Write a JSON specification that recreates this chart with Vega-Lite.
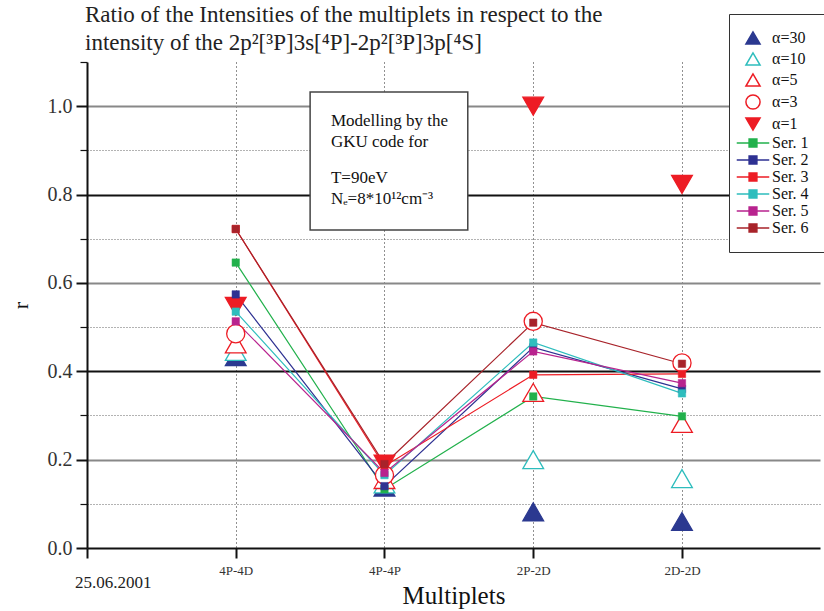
{
  "$schema": "https://vega.github.io/schema/vega-lite/v6.json",
  "width": 733,
  "height": 486,
  "autosize": "none",
  "padding": {"left": 87, "top": 62, "right": 4, "bottom": 63},
  "background": "white",
  "title": {
    "text": ["Ratio of the Intensities of the multiplets in respect to the", "intensity of the 2p²[³P]3s[⁴P]-2p²[³P]3p[⁴S]"],
    "anchor": "start",
    "frame": "group",
    "font": "Liberation Serif",
    "fontSize": 23,
    "fontWeight": "normal",
    "color": "#222",
    "lineHeight": 28,
    "offset": 10,
    "dx": -2,
    "dy": 51
  },
  "config": {
    "view": {"stroke": null},
    "legend": {
      "orient": "none",
      "legendX": 642,
      "legendY": -48,
      "padding": 16,
      "fillColor": "white",
      "strokeColor": "#333",
      "labelFont": "Liberation Serif",
      "labelFontSize": 16,
      "labelColor": "#111",
      "labelOffset": 11,
      "symbolSize": 200,
      "symbolStrokeWidth": 1.5,
      "rowPadding": 1,
      "labelLimit": 200
    }
  },
  "datasets": {
    "series": [
      {"pos": 1, "multiplet": "4P-4D", "key": "Ser. 1", "r": 0.646},
      {"pos": 2, "multiplet": "4P-4P", "key": "Ser. 1", "r": 0.133},
      {"pos": 3, "multiplet": "2P-2D", "key": "Ser. 1", "r": 0.343},
      {"pos": 4, "multiplet": "2D-2D", "key": "Ser. 1", "r": 0.298},
      {"pos": 1, "multiplet": "4P-4D", "key": "Ser. 2", "r": 0.574},
      {"pos": 2, "multiplet": "4P-4P", "key": "Ser. 2", "r": 0.14},
      {"pos": 3, "multiplet": "2P-2D", "key": "Ser. 2", "r": 0.454},
      {"pos": 4, "multiplet": "2D-2D", "key": "Ser. 2", "r": 0.36},
      {"pos": 1, "multiplet": "4P-4D", "key": "Ser. 3", "r": 0.722},
      {"pos": 2, "multiplet": "4P-4P", "key": "Ser. 3", "r": 0.185},
      {"pos": 3, "multiplet": "2P-2D", "key": "Ser. 3", "r": 0.392},
      {"pos": 4, "multiplet": "2D-2D", "key": "Ser. 3", "r": 0.394},
      {"pos": 1, "multiplet": "4P-4D", "key": "Ser. 4", "r": 0.535},
      {"pos": 2, "multiplet": "4P-4P", "key": "Ser. 4", "r": 0.165},
      {"pos": 3, "multiplet": "2P-2D", "key": "Ser. 4", "r": 0.465},
      {"pos": 4, "multiplet": "2D-2D", "key": "Ser. 4", "r": 0.35},
      {"pos": 1, "multiplet": "4P-4D", "key": "Ser. 5", "r": 0.513},
      {"pos": 2, "multiplet": "4P-4P", "key": "Ser. 5", "r": 0.17},
      {"pos": 3, "multiplet": "2P-2D", "key": "Ser. 5", "r": 0.445},
      {"pos": 4, "multiplet": "2D-2D", "key": "Ser. 5", "r": 0.373},
      {"pos": 1, "multiplet": "4P-4D", "key": "Ser. 6", "r": 0.722},
      {"pos": 2, "multiplet": "4P-4P", "key": "Ser. 6", "r": 0.19},
      {"pos": 3, "multiplet": "2P-2D", "key": "Ser. 6", "r": 0.51},
      {"pos": 4, "multiplet": "2D-2D", "key": "Ser. 6", "r": 0.417}
    ],
    "alpha": [
      {"pos": 1, "multiplet": "4P-4D", "key": "α=30", "r": 0.433},
      {"pos": 2, "multiplet": "4P-4P", "key": "α=30", "r": 0.138},
      {"pos": 3, "multiplet": "2P-2D", "key": "α=30", "r": 0.082},
      {"pos": 4, "multiplet": "2D-2D", "key": "α=30", "r": 0.06},
      {"pos": 1, "multiplet": "4P-4D", "key": "α=10", "r": 0.445},
      {"pos": 2, "multiplet": "4P-4P", "key": "α=10", "r": 0.145},
      {"pos": 3, "multiplet": "2P-2D", "key": "α=10", "r": 0.2},
      {"pos": 4, "multiplet": "2D-2D", "key": "α=10", "r": 0.157},
      {"pos": 1, "multiplet": "4P-4D", "key": "α=5", "r": 0.462},
      {"pos": 2, "multiplet": "4P-4P", "key": "α=5", "r": 0.155},
      {"pos": 3, "multiplet": "2P-2D", "key": "α=5", "r": 0.352},
      {"pos": 4, "multiplet": "2D-2D", "key": "α=5", "r": 0.282},
      {"pos": 1, "multiplet": "4P-4D", "key": "α=3", "r": 0.485},
      {"pos": 2, "multiplet": "4P-4P", "key": "α=3", "r": 0.165},
      {"pos": 3, "multiplet": "2P-2D", "key": "α=3", "r": 0.513},
      {"pos": 4, "multiplet": "2D-2D", "key": "α=3", "r": 0.419},
      {"pos": 1, "multiplet": "4P-4D", "key": "α=1", "r": 0.547},
      {"pos": 2, "multiplet": "4P-4P", "key": "α=1", "r": 0.19},
      {"pos": 3, "multiplet": "2P-2D", "key": "α=1", "r": 1.0},
      {"pos": 4, "multiplet": "2D-2D", "key": "α=1", "r": 0.823}
    ],
    "note": [
      {"x": 1.5, "x2": 2.56, "y": 1.032, "y2": 0.72}
    ],
    "noteText": [
      {"tx": 1.64, "ty": 0.985, "label": ["Modelling by the", "GKU code for"]},
      {"tx": 1.64, "ty": 0.855, "label": ["T=90eV", "Nₑ=8*10¹²cm⁻³"]}
    ],
    "stamp": [
      {"x": 0, "y": 0, "label": "25.06.2001"}
    ]
  },
  "layer": [
    {
      "data": {"name": "series"},
      "mark": {"type": "line", "strokeWidth": 1.2},
      "encoding": {
        "x": {
          "field": "pos", "type": "quantitative",
          "scale": {"domain": [0, 4.928], "nice": false, "zero": false},
          "axis": {
            "values": [0, 1, 2, 3, 4],
            "labelExpr": "['', '4P-4D', '4P-4P', '2P-2D', '2D-2D'][datum.value]",
            "labelFont": "Liberation Serif", "labelFontSize": 13, "labelColor": "#333", "labelPadding": 6,
            "domainColor": "#111", "domainWidth": 2,
            "tickColor": "#111", "tickWidth": 2, "tickSize": 10,
            "grid": true, "gridColor": "#222", "gridDash": [1, 3], "gridWidth": 1,
            "gridOpacity": {"condition": {"test": "datum.value < 0.5", "value": 0}, "value": 1},
            "title": "Multiplets", "titleFont": "Liberation Serif", "titleFontSize": 25,
            "titleFontWeight": "normal", "titleColor": "#111", "titlePadding": 6
          }
        },
        "y": {
          "field": "r", "type": "quantitative",
          "scale": {"domain": [0, 1.1], "nice": false},
          "axis": {
            "values": [0, 0.1, 0.2, 0.3, 0.4, 0.5, 0.6, 0.7, 0.8, 0.9, 1.0, 1.1],
            "labelExpr": "(round(datum.value*10) % 2 == 0 && datum.value < 1.05) ? format(datum.value, '.1f') : ''",
            "labelFont": "Liberation Serif", "labelFontSize": 20, "labelColor": "#333", "labelPadding": 4,
            "domainColor": "#111", "domainWidth": 2,
            "tickColor": "#111",
            "tickWidth": {"condition": {"test": "round(datum.value*10) % 2 == 1", "value": 1.2}, "value": 2},
            "tickSize": {"condition": {"test": "round(datum.value*10) % 2 == 1", "value": 7}, "value": 11},
            "grid": true,
            "gridDash": {"condition": {"test": "round(datum.value*10) % 2 == 1", "value": [1, 2]}, "value": []},
            "gridColor": {"condition": [{"test": "round(datum.value*10) % 2 == 1", "value": "#666"}, {"test": "round(datum.value*10) == 4 || round(datum.value*10) == 8", "value": "#111"}], "value": "#888"},
            "gridWidth": {"condition": {"test": "round(datum.value*10) % 2 == 1", "value": 1}, "value": 1.8},
            "gridOpacity": {"condition": {"test": "datum.value < 0.05 || datum.value > 1.05", "value": 0}, "value": 1},
            "title": "r", "titleFont": "Liberation Serif", "titleFontSize": 22,
            "titleFontWeight": "normal", "titleColor": "#111", "titlePadding": 15
          }
        },
        "detail": {"field": "key"},
        "stroke": {
          "field": "key", "type": "nominal",
          "scale": {
            "domain": ["α=30", "α=10", "α=5", "α=3", "α=1", "Ser. 1", "Ser. 2", "Ser. 3", "Ser. 4", "Ser. 5", "Ser. 6"],
            "range": ["#2B3990", "#2EBDBD", "#ED1C24", "#ED1C24", "#ED1C24", "#22B14C", "#2E3192", "#ED1C24", "#2EBDBD", "#B8238E", "#A8232A"]
          },
          "legend": {"title": null}
        }
      }
    },
    {
      "data": {"name": "alpha"},
      "mark": {"type": "point", "filled": false, "strokeWidth": 1.3, "opacity": 1},
      "encoding": {
        "x": {"field": "pos", "type": "quantitative"},
        "y": {"field": "r", "type": "quantitative"},
        "size": {"condition": {"test": "datum.key == 'α=3'", "value": 330}, "value": 430},
        "stroke": {
          "field": "key", "type": "nominal",
          "scale": {
            "domain": ["α=30", "α=10", "α=5", "α=3", "α=1", "Ser. 1", "Ser. 2", "Ser. 3", "Ser. 4", "Ser. 5", "Ser. 6"]
          },
          "legend": {"title": null}
        },
        "fill": {
          "field": "key", "type": "nominal",
          "scale": {
            "domain": ["α=30", "α=10", "α=5", "α=3", "α=1", "Ser. 1", "Ser. 2", "Ser. 3", "Ser. 4", "Ser. 5", "Ser. 6"],
            "range": ["#2B3990", "white", "white", "white", "#ED1C24", "#22B14C", "#2E3192", "#ED1C24", "#2EBDBD", "#B8238E", "#A8232A"]
          },
          "legend": {"title": null}
        },
        "shape": {
          "field": "key", "type": "nominal",
          "scale": {
            "domain": ["α=30", "α=10", "α=5", "α=3", "α=1", "Ser. 1", "Ser. 2", "Ser. 3", "Ser. 4", "Ser. 5", "Ser. 6"],
            "range": ["triangle-up", "triangle-up", "triangle-up", "circle", "triangle-down",
              "M-2.3,0H2.3M-0.55,-0.55H0.55V0.55H-0.55Z", "M-2.3,0H2.3M-0.55,-0.55H0.55V0.55H-0.55Z",
              "M-2.3,0H2.3M-0.55,-0.55H0.55V0.55H-0.55Z", "M-2.3,0H2.3M-0.55,-0.55H0.55V0.55H-0.55Z",
              "M-2.3,0H2.3M-0.55,-0.55H0.55V0.55H-0.55Z", "M-2.3,0H2.3M-0.55,-0.55H0.55V0.55H-0.55Z"]
          },
          "legend": {"title": null}
        }
      }
    },
    {
      "data": {"name": "series"},
      "mark": {"type": "point", "shape": "square", "size": 55, "filled": true, "opacity": 1, "strokeWidth": 0.5},
      "encoding": {
        "x": {"field": "pos", "type": "quantitative"},
        "y": {"field": "r", "type": "quantitative"},
        "fill": {"field": "key", "type": "nominal", "legend": {"title": null}},
        "stroke": {"field": "key", "type": "nominal", "legend": {"title": null}}
      }
    },
    {
      "mark": {"type": "rule", "color": "#111", "strokeWidth": 2},
      "encoding": {"y": {"datum": 1.1}}
    },
    {
      "data": {"name": "note"},
      "mark": {"type": "rect", "fill": "white", "stroke": "#444", "strokeWidth": 1.5},
      "encoding": {
        "x": {"field": "x", "type": "quantitative"},
        "x2": {"field": "x2"},
        "y": {"field": "y", "type": "quantitative"},
        "y2": {"field": "y2"}
      }
    },
    {
      "data": {"name": "noteText"},
      "mark": {"type": "text", "align": "left", "baseline": "top", "font": "Liberation Serif", "fontSize": 17, "lineHeight": 21, "color": "#111"},
      "encoding": {
        "x": {"field": "tx", "type": "quantitative"},
        "y": {"field": "ty", "type": "quantitative"},
        "text": {"field": "label"}
      }
    },
    {
      "data": {"name": "stamp"},
      "mark": {"type": "text", "align": "left", "baseline": "middle", "dx": -12, "dy": 35, "font": "Liberation Serif", "fontSize": 17, "color": "#222"},
      "encoding": {
        "x": {"field": "x", "type": "quantitative"},
        "y": {"field": "y", "type": "quantitative"},
        "text": {"field": "label"}
      }
    }
  ]
}
